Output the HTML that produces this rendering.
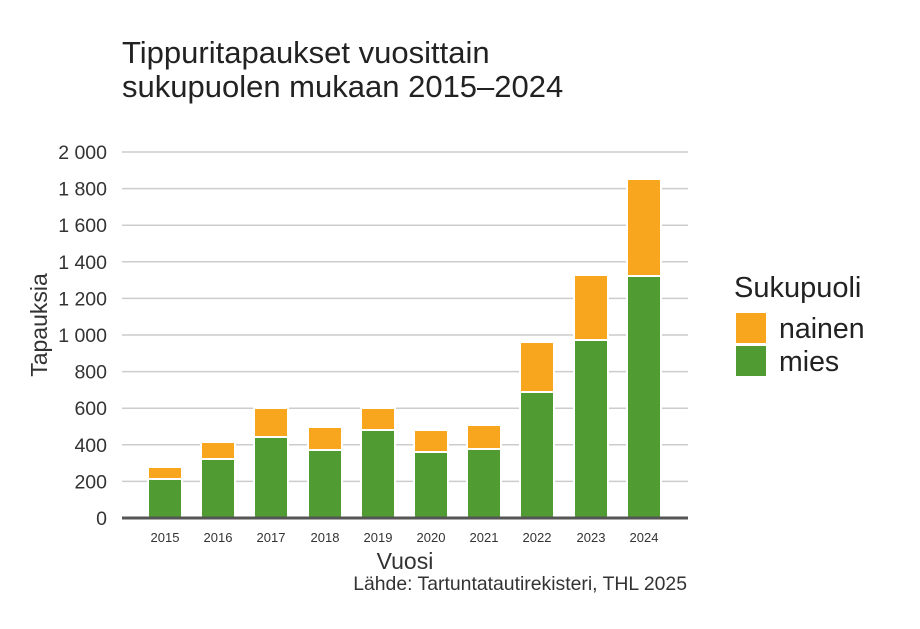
<!DOCTYPE html>
<html><head><meta charset="utf-8"><style>body{margin:0;background:#fff}svg{display:block}</style></head><body>
<svg width="920" height="629" viewBox="0 0 920 629" xmlns="http://www.w3.org/2000/svg" font-family="Liberation Sans, sans-serif">
<rect width="920" height="629" fill="#fff"/>
<text x="122" y="63" font-size="31" fill="#222">Tippuritapaukset vuosittain</text>
<text x="122" y="97" font-size="31" fill="#222">sukupuolen mukaan 2015–2024</text>
<g stroke="#cccccc" stroke-width="1.5">
<line x1="122" x2="688" y1="152" y2="152"/><line x1="122" x2="688" y1="188.6" y2="188.6"/>
<line x1="122" x2="688" y1="225.2" y2="225.2"/><line x1="122" x2="688" y1="261.8" y2="261.8"/>
<line x1="122" x2="688" y1="298.4" y2="298.4"/><line x1="122" x2="688" y1="335" y2="335"/>
<line x1="122" x2="688" y1="371.6" y2="371.6"/><line x1="122" x2="688" y1="408.2" y2="408.2"/>
<line x1="122" x2="688" y1="444.8" y2="444.8"/><line x1="122" x2="688" y1="481.4" y2="481.4"/>
</g>
<g font-size="19.5" fill="#333" text-anchor="end">
<text x="107" y="159">2 000</text><text x="107" y="195.6">1 800</text><text x="107" y="232.2">1 600</text>
<text x="107" y="268.8">1 400</text><text x="107" y="305.4">1 200</text><text x="107" y="342">1 000</text>
<text x="107" y="378.6">800</text><text x="107" y="415.2">600</text><text x="107" y="451.8">400</text>
<text x="107" y="488.4">200</text><text x="107" y="525">0</text>
</g>
<g stroke="#fff" stroke-width="2">
<rect x="148" y="467" width="34" height="12" fill="#F9A61F"/><rect x="148" y="479" width="34" height="39" fill="#519B33"/>
<rect x="201" y="442" width="34" height="17" fill="#F9A61F"/><rect x="201" y="459" width="34" height="59" fill="#519B33"/>
<rect x="254" y="408" width="34" height="29" fill="#F9A61F"/><rect x="254" y="437" width="34" height="81" fill="#519B33"/>
<rect x="308" y="427" width="34" height="23" fill="#F9A61F"/><rect x="308" y="450" width="34" height="68" fill="#519B33"/>
<rect x="361" y="408" width="34" height="22" fill="#F9A61F"/><rect x="361" y="430" width="34" height="88" fill="#519B33"/>
<rect x="414" y="430" width="34" height="22" fill="#F9A61F"/><rect x="414" y="452" width="34" height="66" fill="#519B33"/>
<rect x="467" y="425" width="34" height="24" fill="#F9A61F"/><rect x="467" y="449" width="34" height="69" fill="#519B33"/>
<rect x="520" y="342" width="34" height="50" fill="#F9A61F"/><rect x="520" y="392" width="34" height="126" fill="#519B33"/>
<rect x="574" y="275" width="34" height="65" fill="#F9A61F"/><rect x="574" y="340" width="34" height="178" fill="#519B33"/>
<rect x="627" y="179" width="34" height="97" fill="#F9A61F"/><rect x="627" y="276" width="34" height="242" fill="#519B33"/>
</g>
<line x1="122" x2="688" y1="518" y2="518" stroke="#555" stroke-width="3"/>
<g font-size="13" fill="#333" text-anchor="middle">
<text x="165" y="542">2015</text><text x="218" y="542">2016</text><text x="271" y="542">2017</text>
<text x="325" y="542">2018</text><text x="378" y="542">2019</text><text x="431" y="542">2020</text>
<text x="484" y="542">2021</text><text x="537" y="542">2022</text><text x="591" y="542">2023</text>
<text x="644" y="542">2024</text>
</g>
<text x="405" y="569" font-size="23" fill="#333" text-anchor="middle">Vuosi</text>
<text x="687" y="590" font-size="19.4" fill="#333" text-anchor="end">Lähde: Tartuntatautirekisteri, THL 2025</text>
<text transform="translate(47,325) rotate(-90)" font-size="23" fill="#333" text-anchor="middle">Tapauksia</text>
<text x="734" y="297" font-size="29" fill="#222">Sukupuoli</text>
<rect x="736" y="313" width="30" height="30" fill="#F9A61F"/>
<text x="779" y="338" font-size="28.5" fill="#222">nainen</text>
<rect x="736" y="346" width="30" height="30" fill="#519B33"/>
<text x="779" y="371" font-size="28.5" fill="#222">mies</text>
</svg>
</body></html>
